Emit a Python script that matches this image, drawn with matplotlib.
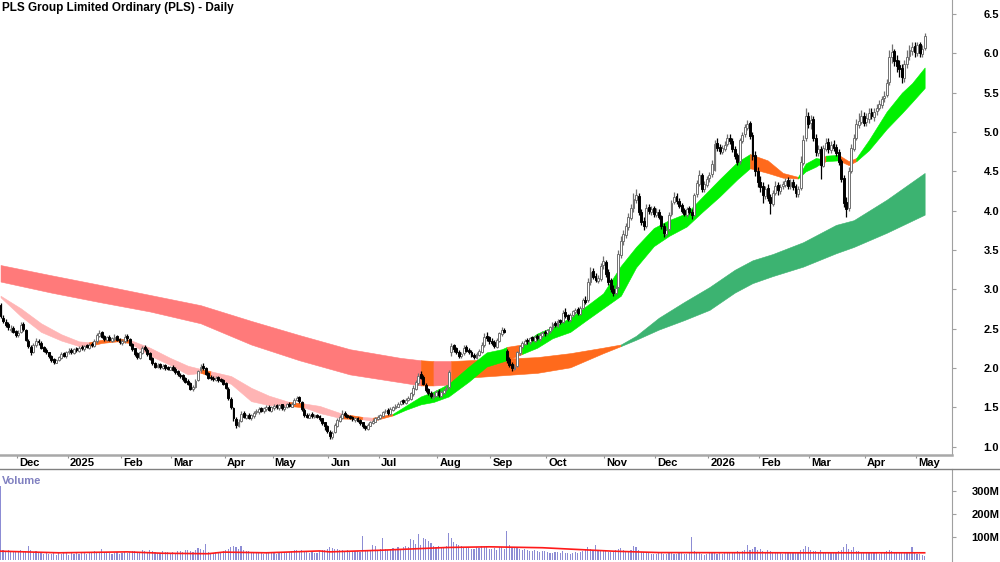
import numpy as np
import pandas as pd
import matplotlib
matplotlib.use('Agg')
import matplotlib.pyplot as plt
from matplotlib.lines import Line2D

plt.rcParams['font.family'] = ['Liberation Sans', 'DejaVu Sans']

# ASX trading days shown on the chart
holidays = ['2024-12-25', '2024-12-26', '2025-01-01', '2025-01-27', '2025-04-18',
            '2025-04-21', '2025-04-25', '2025-06-09', '2025-12-25', '2025-12-26',
            '2026-01-01', '2026-01-26', '2026-04-03', '2026-04-06']
dates = pd.bdate_range('2024-11-21', '2026-05-06', freq='C', holidays=holidays)

# daily prices, one line per month (Nov 2024 .. May 2026)
opens = [
    2.80, 2.64, 2.58, 2.56, 2.49, 2.51, 2.47,
    2.42, 2.46, 2.56, 2.49, 2.35, 2.27, 2.21, 2.29, 2.35, 2.32, 2.27, 2.23, 2.20, 2.16, 2.11, 2.07, 2.10, 2.13, 2.19, 2.15,
    2.20, 2.23, 2.19, 2.25, 2.22, 2.27, 2.24, 2.29, 2.26, 2.31, 2.28, 2.34, 2.41, 2.46, 2.41, 2.36, 2.40, 2.35, 2.37, 2.41, 2.37,
    2.32, 2.34, 2.41, 2.37, 2.31, 2.25, 2.19, 2.13, 2.19, 2.27, 2.23, 2.19, 2.13, 2.07, 2.01, 2.05, 2.00, 2.04, 2.01, 1.98,
    2.02, 1.99, 1.96, 1.91, 1.91, 1.87, 1.84, 1.81, 1.73, 1.76, 1.85, 1.97, 2.03, 2.00, 1.94, 1.89, 1.88, 1.85, 1.89, 1.86, 1.85,
    1.81, 1.74, 1.61, 1.49, 1.35, 1.27, 1.33, 1.43, 1.37, 1.41, 1.36, 1.39, 1.44, 1.44, 1.49, 1.45, 1.48, 1.51, 1.46,
    1.49, 1.53, 1.49, 1.54, 1.48, 1.50, 1.55, 1.51, 1.55, 1.59, 1.63, 1.57, 1.47, 1.41, 1.37, 1.42, 1.38, 1.41, 1.39, 1.36, 1.31, 1.27,
    1.19, 1.13, 1.19, 1.27, 1.33, 1.37, 1.43, 1.41, 1.39, 1.38, 1.34, 1.37, 1.34, 1.31, 1.27, 1.23, 1.27, 1.30, 1.32, 1.35,
    1.37, 1.39, 1.45, 1.47, 1.42, 1.47, 1.49, 1.51, 1.54, 1.59, 1.56, 1.59, 1.61, 1.67, 1.74, 1.81, 1.92, 1.89, 1.79, 1.73, 1.69, 1.63, 1.65,
    1.71, 1.65, 1.69, 1.73, 1.76, 2.20, 2.29, 2.25, 2.21, 2.15, 2.19, 2.27, 2.23, 2.21, 2.17, 2.13, 2.17, 2.21, 2.29, 2.41, 2.39,
    2.35, 2.33, 2.27, 2.35, 2.43, 2.49, 2.22, 2.11, 2.05, 1.99, 2.03, 2.19, 2.27, 2.31, 2.36, 2.33, 2.39, 2.35, 2.41, 2.37, 2.41, 2.46,
    2.44, 2.47, 2.51, 2.57, 2.54, 2.61, 2.59, 2.71, 2.67, 2.61, 2.67, 2.71, 2.75, 2.69, 2.77, 2.87, 2.86, 3.09, 3.23, 3.17, 3.11, 3.13, 3.31,
    3.35, 3.22, 3.12, 3.01, 2.95, 3.03, 3.44, 3.61, 3.69, 3.79, 3.91, 4.03, 4.14, 4.19, 3.99, 3.87, 3.81, 4.05, 3.99, 4.03,
    3.95, 3.99, 3.93, 3.81, 3.71, 3.77, 3.96, 4.11, 4.19, 4.13, 4.07, 4.01, 3.95, 4.03, 3.99, 3.95, 4.21, 4.34, 4.45, 4.27, 4.33,
    4.41, 4.47, 4.52, 4.86, 4.81, 4.75, 4.79, 4.85, 4.93, 4.89, 4.79, 4.71, 4.63, 4.89, 4.97, 5.05, 5.11, 4.96, 4.71, 4.51,
    4.37, 4.31, 4.19, 4.29, 4.17, 4.09, 4.23, 4.33, 4.25, 4.31, 4.33, 4.39, 4.31, 4.37, 4.31, 4.21, 4.29, 4.61, 4.92, 5.21,
    5.11, 5.16, 4.93, 4.74, 4.79, 4.57, 4.79, 4.87, 4.77, 4.85, 4.81, 4.75, 4.63, 4.41, 4.11, 4.03, 4.51, 4.79, 4.93, 5.09, 5.13, 5.21,
    5.13, 5.17, 5.25, 5.19, 5.27, 5.31, 5.35, 5.43, 5.47, 5.64, 5.96, 6.03, 5.91, 5.85, 5.81, 5.69, 5.87, 5.97, 6.03, 6.09,
    6.01, 6.12, 5.99, 6.07,
]
highs = [
    2.83, 2.68, 2.62, 2.58, 2.55, 2.53, 2.49,
    2.48, 2.58, 2.58, 2.50, 2.37, 2.29, 2.32, 2.38, 2.37, 2.34, 2.28, 2.25, 2.21, 2.17, 2.13, 2.12, 2.16, 2.20, 2.21, 2.22,
    2.25, 2.25, 2.26, 2.27, 2.28, 2.29, 2.30, 2.31, 2.32, 2.33, 2.37, 2.44, 2.49, 2.47, 2.42, 2.41, 2.42, 2.40, 2.43, 2.42, 2.38,
    2.37, 2.43, 2.43, 2.38, 2.32, 2.26, 2.21, 2.22, 2.28, 2.29, 2.25, 2.20, 2.14, 2.08, 2.06, 2.06, 2.05, 2.05, 2.03, 2.03,
    2.04, 2.01, 1.98, 1.94, 1.93, 1.89, 1.86, 1.82, 1.78, 1.86, 1.98, 2.05, 2.06, 2.01, 1.95, 1.91, 1.90, 1.90, 1.90, 1.88, 1.86,
    1.83, 1.76, 1.63, 1.51, 1.38, 1.35, 1.45, 1.45, 1.42, 1.43, 1.42, 1.45, 1.48, 1.50, 1.50, 1.51, 1.53, 1.53, 1.52,
    1.54, 1.55, 1.55, 1.55, 1.53, 1.56, 1.57, 1.57, 1.62, 1.65, 1.64, 1.58, 1.49, 1.43, 1.43, 1.44, 1.42, 1.42, 1.40, 1.37, 1.32, 1.28,
    1.21, 1.20, 1.30, 1.36, 1.40, 1.47, 1.45, 1.42, 1.40, 1.39, 1.38, 1.38, 1.35, 1.32, 1.28, 1.30, 1.33, 1.35, 1.38, 1.40,
    1.42, 1.46, 1.48, 1.49, 1.50, 1.52, 1.54, 1.57, 1.60, 1.61, 1.62, 1.64, 1.70, 1.78, 1.85, 1.94, 1.96, 1.91, 1.81, 1.75, 1.71, 1.68, 1.72,
    1.73, 1.72, 1.74, 1.78, 1.98, 2.32, 2.31, 2.27, 2.23, 2.20, 2.29, 2.29, 2.25, 2.23, 2.19, 2.20, 2.24, 2.33, 2.45, 2.46, 2.41,
    2.38, 2.36, 2.38, 2.46, 2.52, 2.51, 2.24, 2.14, 2.08, 2.05, 2.22, 2.30, 2.34, 2.37, 2.38, 2.40, 2.41, 2.42, 2.43, 2.44, 2.47, 2.48,
    2.50, 2.54, 2.58, 2.60, 2.62, 2.63, 2.74, 2.76, 2.69, 2.70, 2.74, 2.77, 2.78, 2.79, 2.89, 2.92, 3.14, 3.28, 3.27, 3.21, 3.18, 3.34, 3.42,
    3.38, 3.26, 3.15, 3.05, 3.05, 3.50, 3.68, 3.76, 3.85, 3.97, 4.09, 4.22, 4.27, 4.22, 4.02, 3.92, 4.08, 4.09, 4.06, 4.06,
    4.03, 4.02, 3.95, 3.84, 3.79, 3.98, 4.14, 4.24, 4.22, 4.16, 4.10, 4.04, 4.05, 4.06, 4.02, 4.23, 4.39, 4.52, 4.48, 4.38, 4.44,
    4.49, 4.64, 4.90, 4.92, 4.85, 4.84, 4.88, 4.97, 4.98, 4.92, 4.82, 4.74, 4.93, 5.00, 5.10, 5.15, 5.14, 5.00, 4.76, 4.56,
    4.44, 4.36, 4.32, 4.34, 4.21, 4.26, 4.38, 4.37, 4.34, 4.38, 4.42, 4.43, 4.40, 4.40, 4.34, 4.32, 4.70, 4.96, 5.30, 5.26,
    5.22, 5.20, 4.98, 4.84, 4.82, 4.84, 4.92, 4.92, 4.88, 4.90, 4.85, 4.78, 4.66, 4.45, 4.18, 4.56, 4.85, 4.98, 5.16, 5.24, 5.28, 5.26,
    5.24, 5.30, 5.31, 5.30, 5.36, 5.41, 5.46, 5.52, 5.68, 6.04, 6.12, 6.06, 5.98, 5.92, 5.86, 5.92, 6.04, 6.10, 6.14, 6.14,
    6.14, 6.15, 6.10, 6.26,
]
lows = [
    2.64, 2.57, 2.52, 2.48, 2.46, 2.44, 2.40,
    2.40, 2.44, 2.47, 2.34, 2.25, 2.17, 2.19, 2.27, 2.30, 2.24, 2.20, 2.18, 2.13, 2.08, 2.05, 2.06, 2.09, 2.12, 2.14, 2.13,
    2.18, 2.18, 2.18, 2.21, 2.20, 2.23, 2.22, 2.25, 2.24, 2.27, 2.27, 2.32, 2.39, 2.38, 2.35, 2.34, 2.34, 2.33, 2.35, 2.34, 2.31,
    2.30, 2.32, 2.35, 2.28, 2.22, 2.16, 2.12, 2.12, 2.18, 2.22, 2.16, 2.10, 2.04, 2.00, 2.00, 1.99, 1.99, 1.98, 1.97, 1.97,
    1.96, 1.93, 1.90, 1.88, 1.84, 1.81, 1.78, 1.72, 1.71, 1.75, 1.84, 1.95, 1.98, 1.91, 1.86, 1.85, 1.84, 1.84, 1.83, 1.82, 1.78,
    1.73, 1.60, 1.48, 1.33, 1.24, 1.25, 1.31, 1.36, 1.35, 1.35, 1.34, 1.37, 1.42, 1.42, 1.44, 1.43, 1.46, 1.45, 1.44,
    1.47, 1.48, 1.47, 1.47, 1.46, 1.49, 1.50, 1.50, 1.54, 1.58, 1.56, 1.46, 1.38, 1.36, 1.36, 1.37, 1.36, 1.36, 1.33, 1.28, 1.22, 1.17,
    1.10, 1.10, 1.17, 1.25, 1.31, 1.35, 1.38, 1.36, 1.35, 1.33, 1.32, 1.31, 1.28, 1.24, 1.21, 1.22, 1.26, 1.29, 1.31, 1.34,
    1.35, 1.38, 1.43, 1.41, 1.41, 1.46, 1.48, 1.50, 1.53, 1.55, 1.55, 1.58, 1.60, 1.65, 1.72, 1.79, 1.86, 1.78, 1.70, 1.66, 1.62, 1.61, 1.63,
    1.63, 1.63, 1.67, 1.71, 1.74, 2.16, 2.21, 2.18, 2.13, 2.13, 2.17, 2.20, 2.18, 2.14, 2.11, 2.11, 2.15, 2.19, 2.27, 2.35, 2.31,
    2.29, 2.25, 2.25, 2.33, 2.41, 2.44, 2.06, 2.01, 1.96, 1.97, 2.01, 2.17, 2.25, 2.29, 2.31, 2.31, 2.34, 2.33, 2.36, 2.35, 2.39, 2.41,
    2.42, 2.45, 2.49, 2.52, 2.52, 2.56, 2.57, 2.64, 2.60, 2.59, 2.65, 2.69, 2.68, 2.67, 2.75, 2.81, 2.84, 3.06, 3.13, 3.09, 3.08, 3.11, 3.26,
    3.16, 3.06, 2.97, 2.92, 2.93, 3.00, 3.40, 3.57, 3.65, 3.75, 3.88, 3.99, 4.10, 3.94, 3.82, 3.76, 3.78, 3.96, 3.95, 3.92,
    3.92, 3.89, 3.77, 3.67, 3.68, 3.74, 3.93, 4.08, 4.09, 4.03, 3.97, 3.93, 3.92, 3.96, 3.90, 3.93, 4.18, 4.31, 4.24, 4.24, 4.30,
    4.36, 4.43, 4.50, 4.76, 4.72, 4.72, 4.76, 4.82, 4.85, 4.75, 4.66, 4.58, 4.60, 4.86, 4.94, 5.02, 4.91, 4.65, 4.44, 4.30,
    4.24, 4.10, 4.15, 4.12, 3.96, 4.06, 4.20, 4.20, 4.21, 4.27, 4.30, 4.28, 4.28, 4.26, 4.18, 4.18, 4.26, 4.58, 4.88, 5.05,
    5.04, 4.88, 4.70, 4.70, 4.40, 4.55, 4.76, 4.74, 4.74, 4.76, 4.70, 4.58, 4.36, 4.05, 3.92, 4.00, 4.48, 4.76, 4.90, 5.05, 5.10, 5.08,
    5.08, 5.12, 5.16, 5.14, 5.22, 5.28, 5.31, 5.38, 5.44, 5.60, 5.88, 5.84, 5.76, 5.70, 5.62, 5.64, 5.82, 5.92, 5.98, 5.96,
    5.97, 5.96, 5.96, 6.04,
]
closes = [
    2.66, 2.60, 2.55, 2.52, 2.50, 2.46, 2.42,
    2.45, 2.55, 2.50, 2.36, 2.28, 2.20, 2.30, 2.34, 2.33, 2.26, 2.22, 2.20, 2.15, 2.10, 2.08, 2.10, 2.14, 2.18, 2.16, 2.20,
    2.22, 2.20, 2.24, 2.23, 2.26, 2.25, 2.28, 2.27, 2.30, 2.29, 2.35, 2.42, 2.45, 2.40, 2.37, 2.39, 2.36, 2.38, 2.40, 2.36, 2.33,
    2.35, 2.40, 2.38, 2.30, 2.24, 2.18, 2.14, 2.20, 2.26, 2.24, 2.18, 2.12, 2.06, 2.02, 2.04, 2.01, 2.03, 2.00, 1.99, 2.01,
    1.98, 1.95, 1.92, 1.90, 1.86, 1.83, 1.80, 1.74, 1.76, 1.84, 1.96, 2.02, 2.00, 1.93, 1.88, 1.87, 1.86, 1.88, 1.85, 1.84, 1.80,
    1.75, 1.62, 1.50, 1.36, 1.28, 1.32, 1.42, 1.38, 1.40, 1.37, 1.40, 1.43, 1.45, 1.48, 1.46, 1.49, 1.50, 1.47, 1.50,
    1.52, 1.50, 1.53, 1.49, 1.51, 1.54, 1.52, 1.55, 1.60, 1.62, 1.58, 1.48, 1.40, 1.38, 1.41, 1.39, 1.40, 1.38, 1.35, 1.30, 1.26, 1.20,
    1.14, 1.18, 1.28, 1.34, 1.38, 1.42, 1.40, 1.38, 1.37, 1.35, 1.36, 1.33, 1.30, 1.26, 1.24, 1.28, 1.31, 1.33, 1.36, 1.38,
    1.40, 1.44, 1.46, 1.43, 1.48, 1.50, 1.52, 1.55, 1.58, 1.57, 1.60, 1.62, 1.68, 1.75, 1.82, 1.90, 1.88, 1.80, 1.72, 1.68, 1.64, 1.66, 1.70,
    1.66, 1.70, 1.72, 1.75, 1.95, 2.28, 2.24, 2.20, 2.16, 2.18, 2.26, 2.22, 2.20, 2.16, 2.14, 2.18, 2.22, 2.30, 2.40, 2.38, 2.34,
    2.32, 2.28, 2.36, 2.44, 2.48, 2.46, 2.10, 2.04, 2.00, 2.02, 2.20, 2.28, 2.32, 2.35, 2.34, 2.38, 2.36, 2.40, 2.38, 2.42, 2.45, 2.44,
    2.48, 2.52, 2.56, 2.55, 2.60, 2.58, 2.70, 2.66, 2.62, 2.68, 2.72, 2.74, 2.70, 2.76, 2.86, 2.84, 3.10, 3.22, 3.16, 3.12, 3.14, 3.30, 3.36,
    3.20, 3.10, 3.00, 2.96, 3.02, 3.45, 3.62, 3.70, 3.80, 3.92, 4.04, 4.15, 4.20, 3.98, 3.86, 3.80, 4.04, 4.00, 4.02, 3.96,
    3.98, 3.92, 3.80, 3.72, 3.76, 3.95, 4.10, 4.18, 4.12, 4.06, 4.00, 3.96, 4.02, 3.98, 3.94, 4.20, 4.35, 4.46, 4.28, 4.34, 4.40,
    4.45, 4.60, 4.85, 4.80, 4.76, 4.80, 4.84, 4.92, 4.88, 4.78, 4.70, 4.62, 4.90, 4.96, 5.06, 5.10, 4.95, 4.70, 4.50, 4.36,
    4.30, 4.20, 4.28, 4.16, 4.10, 4.22, 4.32, 4.26, 4.30, 4.34, 4.38, 4.32, 4.36, 4.30, 4.22, 4.28, 4.62, 4.90, 5.20, 5.10,
    5.15, 4.92, 4.75, 4.78, 4.58, 4.80, 4.86, 4.78, 4.84, 4.80, 4.74, 4.62, 4.40, 4.10, 4.02, 4.50, 4.80, 4.92, 5.10, 5.14, 5.20, 5.12,
    5.18, 5.24, 5.20, 5.26, 5.30, 5.36, 5.42, 5.46, 5.62, 5.95, 6.02, 5.90, 5.84, 5.80, 5.70, 5.86, 5.96, 6.04, 6.08, 6.02,
    6.10, 6.00, 6.06, 6.22,
]
# volume in millions
volume = [
    320, 45, 38, 42, 35, 40, 36,
    38, 44, 36, 40, 62, 42, 35, 38, 30, 34, 28, 32, 26, 25, 30, 22, 34, 28, 30, 33,
    24, 30, 28, 32, 27, 35, 30, 28, 33, 36, 40, 34, 30, 48, 33, 29, 31, 27, 30, 34, 28,
    32, 36, 30, 34, 38, 40, 35, 37, 42, 39, 36, 44, 38, 35, 30, 33, 41, 36, 34, 30,
    36, 32, 38, 40, 35, 42, 45, 39, 37, 44, 52, 48, 42, 70, 36, 30, 32, 34, 29, 31, 38,
    42, 48, 55, 60, 58, 50, 62, 45, 40, 38, 36, 35, 30, 33, 31, 28, 34, 30, 32,
    30, 28, 33, 35, 31, 30, 34, 38, 45, 42, 40, 44, 38, 36, 33, 35, 30, 32, 40, 42, 45, 50,
    55, 52, 48, 50, 46, 44, 40, 42, 38, 36, 40, 38, 35, 104, 40, 38, 42, 65, 60, 45,
    48, 96, 50, 45, 42, 52, 48, 55, 50, 58, 62, 55, 90, 88, 70, 113, 65, 95, 92, 85, 75, 60, 58,
    62, 58, 55, 60, 120, 95, 80, 70, 65, 62, 55, 58, 52, 48, 50, 56, 52, 60, 58, 55, 50,
    48, 52, 45, 55, 58, 50, 126, 65, 58, 52, 55, 48, 45, 50, 42, 40, 38, 44, 40, 36, 38, 40,
    35, 32, 30, 34, 36, 30, 38, 33, 30, 28, 32, 35, 30, 34, 40, 45, 55, 50, 46, 65, 42, 40, 45,
    40, 36, 34, 38, 42, 48, 52, 45, 40, 38, 42, 60, 55, 42, 36, 34, 32, 30, 28, 26,
    28, 30, 32, 27, 25, 34, 30, 28, 26, 31, 29, 25, 27, 30, 100, 38, 36, 32, 28, 24, 27,
    30, 34, 32, 28, 30, 27, 31, 33, 29, 35, 30, 38, 32, 40, 45, 65, 42, 50, 55, 45,
    48, 38, 36, 42, 40, 35, 33, 30, 32, 28, 30, 34, 31, 29, 33, 36, 42, 50, 60, 58,
    45, 40, 38, 34, 42, 36, 32, 30, 33, 35, 31, 38, 45, 55, 70, 48, 42, 58, 40, 38, 35, 33,
    34, 32, 30, 36, 31, 28, 33, 35, 38, 45, 40, 36, 34, 32, 30, 33, 35, 31, 55, 30,
    28, 26, 24, 20,
]
# volume average line (millions), read at a few days
vol_ma_idx = [0, 23, 50, 64, 82, 88, 105, 126, 130, 150, 163, 176, 193, 214, 225, 242, 260, 313, 365]
vol_ma = [39, 32, 36, 30, 28, 35, 32, 40, 36, 43, 49, 55, 58, 54, 48, 39, 33, 32, 32]

# short-term average ribbon: day index, top, bottom, colour state of each stretch
short_idx = [0, 8, 16, 24, 31, 35, 40, 46, 51, 59, 67, 74, 79, 83, 91, 99, 106, 114, 120, 126,
             135, 143, 147, 155, 160, 166, 171, 177, 185, 192, 198, 200, 206, 212, 218, 225, 231,
             238, 245, 251, 258, 264, 271, 277, 284, 291, 296, 303, 309, 315, 318, 322, 324, 326,
             331, 335, 338, 343, 350, 356, 360, 365]
short_top = [2.92, 2.76, 2.57, 2.43, 2.34, 2.33, 2.36, 2.38, 2.36, 2.26, 2.13, 2.03, 1.99, 1.96,
             1.90, 1.75, 1.65, 1.57, 1.55, 1.52, 1.42, 1.38, 1.37, 1.42, 1.52, 1.64, 1.70, 1.80,
             2.02, 2.20, 2.24, 2.27, 2.30, 2.44, 2.52, 2.64, 2.78, 2.95, 3.30, 3.54, 3.78, 3.88,
             3.97, 4.17, 4.40, 4.62, 4.72, 4.64, 4.48, 4.43, 4.60, 4.67, 4.66, 4.70, 4.71, 4.63,
             4.67, 4.90, 5.26, 5.50, 5.62, 5.82]
short_bot = [2.90, 2.66, 2.46, 2.35, 2.28, 2.28, 2.32, 2.34, 2.32, 2.16, 2.04, 1.92, 1.94, 1.90,
             1.80, 1.58, 1.53, 1.52, 1.50, 1.43, 1.36, 1.35, 1.33, 1.40, 1.47, 1.54, 1.57, 1.64,
             1.83, 2.02, 2.08, 2.10, 2.18, 2.26, 2.38, 2.46, 2.60, 2.76, 2.92, 3.28, 3.55, 3.68,
             3.80, 3.98, 4.18, 4.40, 4.54, 4.48, 4.42, 4.41, 4.50, 4.56, 4.60, 4.63, 4.64, 4.58,
             4.63, 4.77, 5.04, 5.24, 5.38, 5.56]
short_state = (['down'] * 5 + ['mixed'] * 3 + ['down'] * 4 + ['mixed'] + ['down'] * 4 + ['mixed']
               + ['down'] * 2 + ['mixed'] + ['down'] + ['mixed'] + ['up'] * 8 + ['mixed'] + ['up'] * 14
               + ['mixed'] * 3 + ['up'] * 3 + ['mixed'] + ['up'] + ['mixed'] * 2 + ['up'] * 5)

# long-term average ribbon
long_idx = [0, 20, 39, 59, 79, 99, 118, 138, 158, 166, 171, 178, 185, 212, 225, 238, 245, 251,
            260, 270, 280, 290, 297, 305, 317, 330, 337, 350, 365]
long_top = [3.31, 3.18, 3.06, 2.93, 2.80, 2.60, 2.42, 2.24, 2.13, 2.10, 2.09, 2.09, 2.10, 2.14,
            2.19, 2.26, 2.30, 2.41, 2.64, 2.84, 3.03, 3.25, 3.37, 3.45, 3.60, 3.82, 3.88, 4.14, 4.48]
long_bot = [3.10, 2.96, 2.84, 2.72, 2.57, 2.30, 2.10, 1.92, 1.82, 1.78, 1.78, 1.79, 1.88, 1.94,
            2.01, 2.19, 2.28, 2.36, 2.49, 2.61, 2.74, 2.96, 3.08, 3.17, 3.29, 3.46, 3.54, 3.72, 3.95]
long_state = ['down'] * 9 + ['mixed'] + ['down'] + ['mixed'] * 5 + ['up'] * 12

N = len(dates)
for name, arr in [('opens', opens), ('highs', highs), ('lows', lows), ('closes', closes), ('volume', volume)]:
    assert len(arr) == N, (name, len(arr), N)

short_colors = {'down': '#ffb4b4', 'mixed': '#ff6a1c', 'up': '#00f000'}
long_colors = {'down': '#ff7a7a', 'mixed': '#ff6a1c', 'up': '#3cb371'}

W, H = 1000, 562
def box(l, t, r, b):
    return [l / W, 1 - b / H, (r - l) / W, (b - t) / H]

fig = plt.figure(figsize=(10, 5.62), dpi=100)
ax = fig.add_axes(box(0, 0, 952, 455))
axd = fig.add_axes(box(0, 455, 952, 469))
axv = fig.add_axes(box(0, 469, 952, 562))
xmin, xmax = -0.21, 375.8
for a in (ax, axd, axv):
    a.set_xlim(xmin, xmax)
    for s in ('left', 'top', 'bottom'):
        a.spines[s].set_visible(False)
    a.spines['right'].set_color('#a0a0a0')
    a.set_xticks([])


def draw_band(idx, top, bot, states, colors, z):
    idx, top, bot = np.asarray(idx), np.asarray(top), np.asarray(bot)
    k = 0
    while k < len(states):
        j = k
        while j + 1 < len(states) and states[j + 1] == states[k]:
            j += 1
        sl = slice(k, j + 2)
        ax.fill_between(idx[sl], top[sl], bot[sl], color=colors[states[k]], lw=0.4, zorder=z)
        k = j + 1


draw_band(long_idx, long_top, long_bot, long_state, long_colors, 1)
draw_band(short_idx, short_top, short_bot, short_state, short_colors, 2)

# candles
x = np.arange(N)
o = np.array(opens); h = np.array(highs); l = np.array(lows); c = np.array(closes)
up = c >= o
ax.vlines(x[up], l[up], h[up], color='#707070', lw=0.9, zorder=3)
ax.vlines(x[~up], l[~up], h[~up], color='black', lw=0.9, zorder=3)
ax.bar(x[up], np.maximum(c - o, 0.006)[up], bottom=o[up], width=0.75, color='white',
       edgecolor='#707070', lw=0.7, zorder=4)
ax.bar(x[~up], (o - c)[~up], bottom=c[~up], width=0.75, color='black',
       edgecolor='black', lw=0.7, zorder=4)

ax.set_ylim(0.896, 6.678)
ax.yaxis.tick_right()
ax.set_yticks(np.arange(1.0, 6.51, 0.5))
ax.set_yticklabels(['%.1f' % v for v in np.arange(1.0, 6.51, 0.5)])
ax.tick_params(axis='y', length=3, color='#a0a0a0', pad=31, labelsize=8)
for t in ax.get_yticklabels():
    t.set_ha('right')
    t.set_fontweight('bold')

# date strip
axd.set_ylim(0, 1)
axd.set_yticks([])
axd.spines['right'].set_visible(False)
axd.spines['top'].set_visible(True)
axd.spines['top'].set_color('#a8a8a8')
axd.spines['top'].set_linewidth(1.8)
month_pos, month_lab = [], []
prev = None
for i, d in enumerate(dates):
    if prev is not None and d.month != prev:
        month_pos.append(i - 0.5)
        month_lab.append(str(d.year) if d.month == 1 else d.strftime('%b'))
    prev = d.month
axd.vlines(month_pos, 0.78, 1.0, color='#909090', lw=0.8)
for p, lab in zip(month_pos, month_lab):
    axd.text(p + 0.8, 0.42, lab, fontsize=8, fontweight='bold', ha='left', va='center')
fig.add_artist(Line2D([0, 1], [1 - 469 / H, 1 - 469 / H], color='#808080', lw=1.0))

# volume
axv.bar(x, np.array(volume) * 1e6, width=0.45, color='#8c8cd4', lw=0, zorder=2)
axv.plot(vol_ma_idx, np.array(vol_ma) * 1e6, color='#ff1a1a', lw=1.2, zorder=3)
axv.set_ylim(-8e6, 396e6)
axv.yaxis.tick_right()
axv.set_yticks([100e6, 200e6, 300e6])
axv.set_yticklabels(['100M', '200M', '300M'])
axv.tick_params(axis='y', length=3, color='#a0a0a0', pad=31, labelsize=8)
for t in axv.get_yticklabels():
    t.set_ha('right')
    t.set_fontweight('bold')
axv.text(0.002, 0.93, 'Volume', transform=axv.transAxes, fontsize=8, fontweight='bold',
         color='#8080c0', ha='left', va='top')

fig.text(0.002, 1 - 8 / H, 'PLS Group Limited Ordinary (PLS) - Daily', fontsize=8.5,
         fontweight='bold', ha='left', va='center')

fig.savefig('out.png', dpi=100)
